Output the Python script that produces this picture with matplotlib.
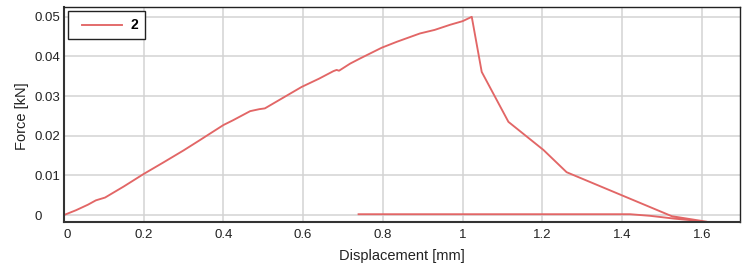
import matplotlib
matplotlib.use("Agg")
import matplotlib.pyplot as plt
from matplotlib.legend_handler import HandlerLine2D

# Loading branch + post-peak + unloading (series "2")
disp = [0.0, 0.03, 0.06, 0.08, 0.103, 0.15, 0.199, 0.25, 0.30, 0.341, 0.358, 0.40, 0.424,
        0.467, 0.49, 0.504, 0.55, 0.596, 0.64, 0.676, 0.684, 0.69, 0.718, 0.743, 0.797,
        0.835, 0.893, 0.93, 0.969, 1.00, 1.023, 1.048, 1.115, 1.203, 1.261, 1.525, 1.613,
        1.53, 1.47, 1.42, 1.30, 1.10, 0.90, 0.739]
force = [0.0, 0.0012, 0.0026, 0.0037, 0.0044, 0.0072, 0.0103, 0.0133, 0.0163, 0.0189,
         0.0200, 0.0227, 0.0239, 0.0262, 0.0267, 0.0269, 0.0296, 0.0323, 0.0344, 0.0363,
         0.0366, 0.0364, 0.0382, 0.0395, 0.0422, 0.0437, 0.0458, 0.0467, 0.0480, 0.0489,
         0.0500, 0.0361, 0.0235, 0.0164, 0.0108, -0.0003, -0.0017,
         -0.0009, -0.0002, 0.0002, 0.0002, 0.0002, 0.0002, 0.0002]

series_label = "2"
xticks = [0, 0.2, 0.4, 0.6, 0.8, 1.0, 1.2, 1.4, 1.6]
xtick_labels = ["0", "0.2", "0.4", "0.6", "0.8", "1", "1.2", "1.4", "1.6"]
yticks = [0, 0.01, 0.02, 0.03, 0.04, 0.05]
ytick_labels = ["0", "0.01", "0.02", "0.03", "0.04", "0.05"]

plt.rcParams['font.family'] = ['Liberation Sans', 'DejaVu Sans']

fig = plt.figure(figsize=(7.5, 2.73), dpi=100)
ax = fig.add_axes([64/750, 1-222.3/273, (740-64)/750, (222.3-7.3)/273])

line, = ax.plot(disp, force, color='#e26666', lw=1.35, label=series_label)

ax.set_xlim(0, 1.696)
ax.set_ylim(-0.00184, 0.0524)
ax.set_xticks(xticks)
ax.set_xticklabels(xtick_labels)
ax.set_yticks(yticks)
ax.set_yticklabels(ytick_labels)
ax.get_xticklabels()[0].set_ha('left')
for t in ax.get_yticklabels():
    t.set_ha('left')
ax.tick_params(axis='both', length=0, labelsize=9.5, colors='#222222')
ax.tick_params(axis='x', pad=5)
ax.tick_params(axis='y', pad=21)
ax.grid(True, color='#d3d3d3', lw=1.1)
ax.set_axisbelow(True)

for side in ['left', 'bottom']:
    ax.spines[side].set_color('#333333')
    ax.spines[side].set_linewidth(1.5)
for side in ['top', 'right']:
    ax.spines[side].set_color('#222222')
    ax.spines[side].set_linewidth(1.0)

fig.text(402/750, 1-256/273, "Displacement [mm]", fontsize=10.5, color='#222222',
         ha='center', va='center')
fig.text(22/750, 1-116/273, "Force [kN]", fontsize=10.5, color='#222222',
         ha='center', va='center', rotation=90)

leg = ax.legend(loc='upper left', frameon=True, fancybox=False,
                handlelength=3.38, handletextpad=0.6, borderpad=0.5, borderaxespad=0.3,
                prop={'weight': 'bold', 'size': 10},
                handler_map={line: HandlerLine2D(xpad=0.5)})
leg.get_frame().set_edgecolor('#222222')
leg.get_frame().set_linewidth(1.0)
leg.get_frame().set_alpha(1.0)

fig.savefig("out.png", dpi=100)
